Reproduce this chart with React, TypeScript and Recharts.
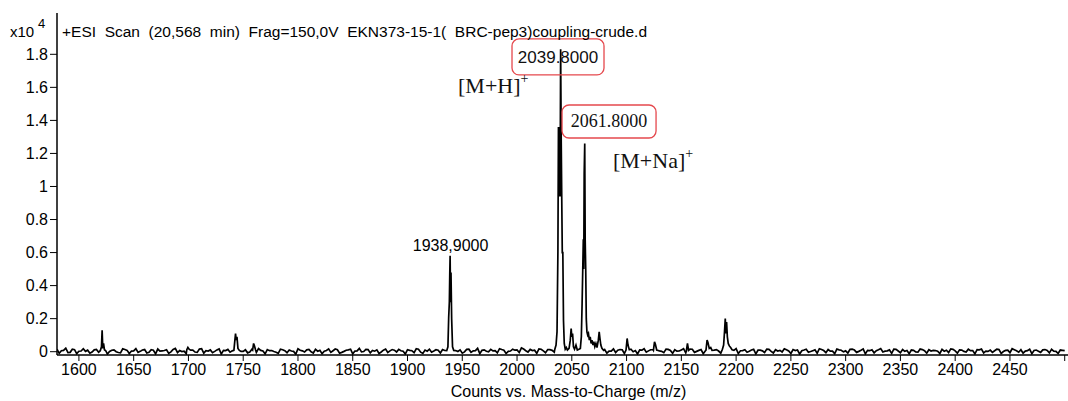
import { LineChart, Line, XAxis, YAxis, ReferenceDot } from "recharts";

// baseline noise (counts), two interleaved runs: one every 4 m/z from 1580, one every 4 m/z from 1582
const BASE_STEP = 4;
const NOISE_A_START = 1580;
const NOISE_A = [
  150, 60, 210, -40, 120, 30, 180, 90, -20, 140, 60, 200, 10, 110, -50, 170, 80, 40, 190, 20,
  130, -30, 90, 160, 50, 120, -10, 200, 70, 30, 150, 100, -40, 180, 60, 110, 20, 170, 80, 140,
  50, 160, 20, 120, -20, 90, 190, 40, 130, 70, -30, 150, 60, 100, 20, 180, 50, 110, -10, 140,
  80, 30, 170, 60, 120, -40, 90, 150, 40, 200, 10, 130, 70, 110, -20, 160, 50, 90, 140, 30,
  120, 60, 180, -30, 100, 150, 40, 90, 130, 20, 170, 70, 110, -10, 150, 50, 200, 80, 30, 140,
  60, 180, 90, 20, 150, 110, 230, 60, 140, 90, 170, 50, 130, 80, 200, 120, 60, 170, 90, 140,
  100, 160, 60, 190, 80, 130, 40, 170, 90, 120, 30, 150, 70, 110, 180, 50, 130, 90, 20, 160,
  70, 120, 40, 180, 90, 150, 20, 130, 60, 170, 100, 40, 150, 80, 110, 190, 60, 120, 30, 140,
  90, 50, 160, 20, 120, 80, 170, 40, 130, 100, 60, 150, 10, 110, 180, 70, 130, 30, 160, 90,
  50, 140, 100, 20, 170, 80, 120, 60, 190, 30, 110, 150, 40, 130, 70, 100, -20, 160, 60, 120,
  80, 30, 140, 90, 170, 50, 110, 20, 150, 70, 120, 160, 40, 100, 60, 130, 10, 90, 180, 60,
  120, 40, 150, 70, 30, 110, 80, 140, 20, 100, 60,
];
const NOISE_B_START = 1582;
const NOISE_B = [
  -100, 80, -60, 150, -120, 40, 20, -90, 110, -30, 60, -140, 90, 0, -70, 130, -110, 50, -40, 100,
  -80, 120, -130, 30, 70, -100, 140, -50, 10, -120, 90, -20, 160, -90, 40, -60, 110, -140, 70, -30,
  130, -110, 20, -70, 150, -40, 80, -130, 60, 10, -100, 120, -60, 40, -150, 90, -20, 140, -80, 30,
  -120, 70, -40, 160, -90, 20, 110, -130, 50, -10, 140, -70, 30, -110, 90, -50, 130, -20, 60, -140,
  80, -60, 150, -100, 30, -30, 120, -80, 70, -150, 100, 10, -90, 140, -40, 60, -120, 110, -10, 50,
  -70, 130, -110, 40, 90, -50, 160, -20, 70, -100, 150, -60, 120, -30, 80, -120, 140, -40, 100, -80,
  60, -130, 110, -20, 150, -90, 40, -50, 130, -110, 70, 0, -140, 90, -30, 120, -80, 50, -60, 140,
  -100, 30, 110, -70, 160, -40, 80, -120, 60, -10, 130, -90, 20, -60, 150, -110, 70, -30, 100, -130,
  90, -50, 140, -80, 40, -20, 120, -110, 70, -140, 100, -30, 60, -90, 130, -60, 30, -120, 110, -10,
  -80, 150, -40, 90, -130, 60, -70, 120, -20, 50, -100, 140, -60, 20, -120, 80, -30, 130, -90, 40,
  70, -110, 30, -50, 140, -90, 100, -20, 60, -130, 110, -70, 20, -40, 150, -100, 80, -60, 120, -30,
  -90, 60, -120, 100, -40, 130, -70, 30, -110, 80,
];

// [m/z, counts]
const PEAK_1622 = [[1619.5, 60], [1620.6, 300], [1621.2, 1300], [1621.8, 200], [1622.5, 500], [1623.3, 120], [1624.5, 60]];
const PEAK_1700 = [[1698.5, 120], [1699.5, 260], [1700.6, 150]];
const PEAK_1744 = [[1741.5, 80], [1742.4, 700], [1743.0, 1100], [1743.6, 700], [1744.3, 900], [1745.2, 200], [1746.5, 80]];
const PEAK_1760 = [[1758.6, 100], [1759.5, 500], [1760.3, 350], [1761.3, 100]];
const PEAK_1939 = [
  [1935.8, 60], [1936.9, 300], [1937.6, 2100], [1938.2, 3000], [1938.6, 4800], [1938.9, 5800],
  [1939.3, 3000], [1939.7, 4800], [1940.3, 2000], [1941.1, 300], [1942.2, 80],
];
const PEAK_MH = [
  [2034.5, 150], [2035.6, 400], [2036.5, 1200], [2037.3, 6000], [2037.8, 13600], [2038.3, 9400],
  [2038.8, 13600], [2039.3, 9400], [2039.8, 18300], [2040.3, 13000], [2040.8, 9400], [2041.3, 6000],
  [2041.8, 6000], [2042.4, 1900], [2043.1, 500], [2044, 150], [2045, 250], [2046, 100],
  [2047.5, 200], [2048.6, 700], [2049.4, 1400], [2050.0, 900], [2050.7, 1100], [2051.5, 300],
  [2052.5, 150], [2053.8, 400], [2055, 100], [2056.5, 150],
];
const PEAK_MNA = [
  [2057.8, 200], [2058.7, 900], [2059.4, 2900], [2060.0, 5000], [2060.5, 6800], [2060.9, 5000],
  [2061.3, 10800], [2061.8, 12600], [2062.2, 6800], [2062.7, 5000], [2063.2, 2000], [2063.8, 1200],
  [2064.5, 1000], [2065.2, 1100], [2066, 700], [2066.8, 900], [2067.6, 500], [2068.4, 700],
  [2069.3, 400], [2070.1, 600], [2071.0, 300], [2072, 500], [2073, 250], [2074.2, 700],
  [2075.0, 1200], [2075.7, 800], [2076.5, 400], [2077.5, 200], [2079, 80],
];
const PEAK_2101 = [[2099.5, 100], [2100.5, 800], [2101.3, 400], [2102.5, 120]];
const PEAK_2126 = [[2124.5, 80], [2125.5, 600], [2126.3, 450], [2127.5, 100]];
const PEAK_2156 = [[2154.6, 60], [2155.6, 500], [2156.6, 80]];
const PEAK_2174 = [[2172.5, 100], [2173.5, 700], [2174.3, 550], [2175.5, 200], [2176.8, 250], [2178, 80]];
const PEAK_2191 = [
  [2187.5, 150], [2188.6, 400], [2189.4, 1200], [2190.1, 2000], [2190.7, 1100], [2191.3, 1800],
  [2192.0, 900], [2192.8, 500], [2193.8, 350], [2195, 250], [2196.3, 120], [2198, 80],
];

const PEAK_GROUPS = [
  PEAK_1622, PEAK_1700, PEAK_1744, PEAK_1760, PEAK_1939, PEAK_MH, PEAK_MNA,
  PEAK_2101, PEAK_2126, PEAK_2156, PEAK_2174, PEAK_2191,
];

const X_TICKS = [
  1600, 1650, 1700, 1750, 1800, 1850, 1900, 1950, 2000, 2050, 2100,
  2150, 2200, 2250, 2300, 2350, 2400, 2450, 2500,
];
const Y_TICKS = [0, 2000, 4000, 6000, 8000, 10000, 12000, 14000, 16000, 18000];

const TITLE = "+ESI  Scan  (20,568  min)  Frag=150,0V  EKN373-15-1(  BRC-pep3)coupling-crude.d";

function buildSpectrum() {
  const ranges = PEAK_GROUPS.map((g) => [g[0][0], g[g.length - 1][0]]);
  const noise = [
    ...NOISE_A.map((c, i) => [NOISE_A_START + i * BASE_STEP, c]),
    ...NOISE_B.map((c, i) => [NOISE_B_START + i * BASE_STEP, c]),
  ].filter(([mz]) => !ranges.some(([a, b]) => mz >= a && mz <= b));
  return [...noise, ...PEAK_GROUPS.flat()]
    .sort((a, b) => a[0] - b[0])
    .map(([mz, counts]) => ({ mz, counts }));
}

const data = buildSpectrum();
const SANS = "'Liberation Sans', Arial, sans-serif";
const SERIF = "'Liberation Serif', 'Times New Roman', serif";
const RED = "#e5484d";

const tickStyle = { fontSize: 16, fontFamily: SANS, fill: "#000" };

export default function App() {
  return (
    <div style={{ position: "relative", width: 1068, height: 401, background: "#fff" }}>
      <style>{"body{margin:0}"}</style>
      <LineChart width={1068} height={401} data={data} margin={{ top: 13, right: 0, left: 0, bottom: 0 }}>
        <XAxis
          dataKey="mz"
          type="number"
          domain={[1580, 2503]}
          ticks={X_TICKS}
          allowDataOverflow
          height={46}
          tick={tickStyle}
          tickSize={6}
          tickMargin={3}
          tickFormatter={(v: number) => (v === 2500 ? "" : String(v))}
          axisLine={{ stroke: "#000", strokeWidth: 1.5 }}
          tickLine={{ stroke: "#000" }}
          label={{
            value: "Counts vs. Mass-to-Charge (m/z)",
            position: "insideBottom",
            offset: 4,
            dx: 6,
            style: { fontSize: 16, fontFamily: SANS, fill: "#000" },
          }}
        />
        <XAxis xAxisId="top" orientation="top" dataKey="mz" type="number" domain={[1580, 2503]} height={0} tick={false} tickLine={false} axisLine={{ stroke: "#000", strokeWidth: 1.5 }} />
        <YAxis
          type="number"
          domain={[-200, 20500]}
          ticks={Y_TICKS}
          allowDataOverflow
          width={57}
          tick={tickStyle}
          tickSize={7}
          tickMargin={2}
          tickFormatter={(v: number) => String(Math.round(v / 1000) / 10)}
          axisLine={{ stroke: "#000", strokeWidth: 1.5 }}
          tickLine={{ stroke: "#000" }}
        />
        <Line
          dataKey="counts"
          type="linear"
          stroke="#000"
          strokeWidth={1.7}
          strokeLinejoin="miter"
          dot={false}
          isAnimationActive={false}
        />
        <ReferenceDot
          x={1939.3}
          y={6095}
          ifOverflow="visible"
          shape={(p: any) => (
            <text x={p.cx} y={p.cy} textAnchor="middle" fontSize={16} fontFamily={SANS} fill="#000">
              1938,9000
            </text>
          )}
        />
        <ReferenceDot
          x={2037.4}
          y={17840}
          ifOverflow="visible"
          shape={(p: any) => (
            <g>
              <rect x={p.cx - 46} y={p.cy - 18} width={92} height={36} rx={7} fill="none" stroke={RED} strokeWidth={1.3} />
              <text x={p.cx} y={p.cy + 6} textAnchor="middle" fontSize={17} fontFamily={SANS} fill="#111">
                2039.8000
              </text>
            </g>
          )}
        />
        <ReferenceDot
          x={2084.0}
          y={13933}
          ifOverflow="visible"
          shape={(p: any) => (
            <g>
              <rect x={p.cx - 47} y={p.cy - 16.5} width={94} height={33} rx={7} fill="none" stroke={RED} strokeWidth={1.3} />
              <text x={p.cx} y={p.cy + 6} textAnchor="middle" fontSize={18} fontFamily={SERIF} fill="#111">
                2061.8000
              </text>
            </g>
          )}
        />
        <ReferenceDot
          x={1946.1}
          y={15658}
          ifOverflow="visible"
          shape={(p: any) => (
            <text x={p.cx} y={p.cy} fontSize={22} fontFamily={SERIF} fill="#111">
              [M+H]
              <tspan fontSize={14} dy={-10}>+</tspan>
            </text>
          )}
        />
        <ReferenceDot
          x={2087.6}
          y={11118}
          ifOverflow="visible"
          shape={(p: any) => (
            <text x={p.cx} y={p.cy} fontSize={22} fontFamily={SERIF} fill="#111">
              [M+Na]
              <tspan fontSize={14} dy={-10}>+</tspan>
            </text>
          )}
        />
      </LineChart>
      <svg width={1068} height={45} style={{ position: "absolute", left: 0, top: 0, pointerEvents: "none" }}>
        <text x={10} y={37} fontSize={15} fontFamily={SANS} fill="#000">x10</text>
        <text x={38} y={28} fontSize={13} fontFamily={SANS} fill="#000">4</text>
        <text x={62} y={37} fontSize={15.5} fontFamily={SANS} fill="#000" style={{ whiteSpace: "pre" }}>
          {TITLE}
        </text>
      </svg>
    </div>
  );
}
